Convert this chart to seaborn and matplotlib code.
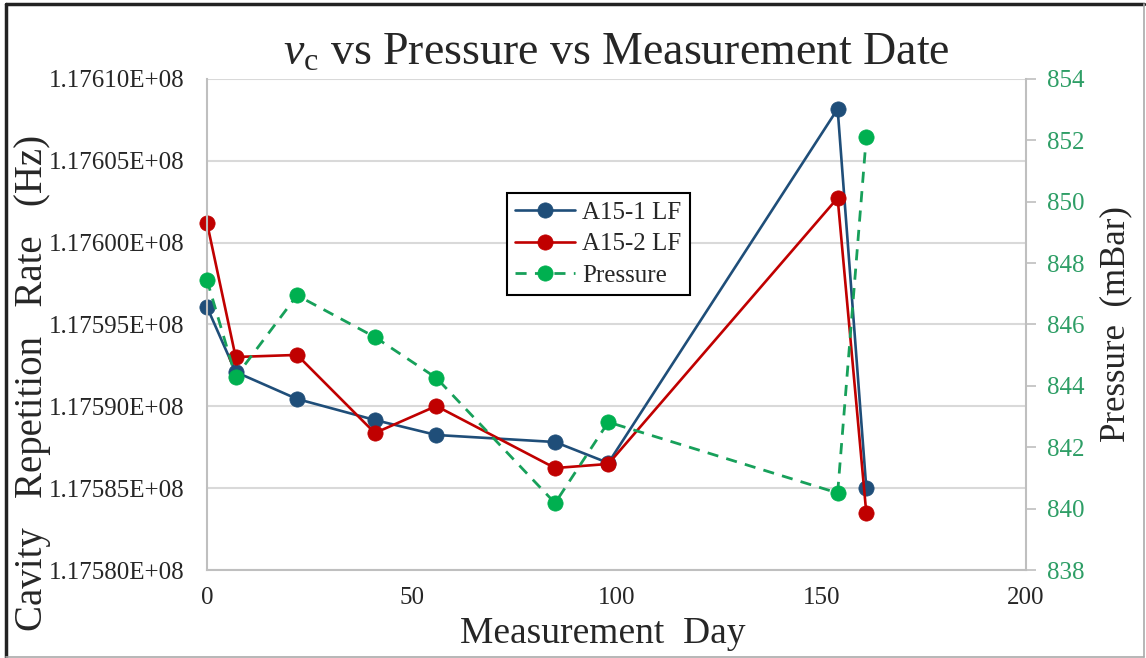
import matplotlib
matplotlib.use('Agg')
import matplotlib.pyplot as plt
from matplotlib.ticker import FuncFormatter, MultipleLocator
from matplotlib.lines import Line2D
import seaborn as sns
import pandas as pd

# values
days = [0, 7, 22, 41, 56, 85, 98, 154, 161]
a15_1_lf = [117596070, 117592100, 117590450, 117589165, 117588250,
            117587820, 117586540, 117608170, 117585010]
a15_2_lf = [117601220, 117593015, 117593140, 117588370, 117590020,
            117586230, 117586480, 117602730, 117583480]
pressure = [847.45, 844.29, 846.95, 845.59, 844.26, 840.18, 842.82, 840.51, 852.11]

x_ticks = [0, 50, 100, 150, 200]
p_ticks = [838, 840, 842, 844, 846, 848, 850, 852, 854]

df = pd.DataFrame({'day': days, 'A15-1 LF': a15_1_lf,
                   'A15-2 LF': a15_2_lf, 'Pressure': pressure})

sns.set_style('white')
plt.rcParams['font.family'] = ['Liberation Serif', 'DejaVu Serif']
plt.rcParams['mathtext.fontset'] = 'custom'
plt.rcParams['mathtext.rm'] = 'Liberation Serif'
plt.rcParams['mathtext.it'] = 'Liberation Serif:italic'

blue = '#1f4e79'
red = '#c00000'
green = '#00b050'
green_line = '#17a05a'
green_text = '#2e9e66'
grid_c = '#d9d9d9'
spine_c = '#bfbfbf'

fig, ax = plt.subplots(figsize=(11.46, 6.58), dpi=100)
fig.subplots_adjust(left=0.1806, right=0.8953, top=0.88, bottom=0.1337)

# left axis series
sns.lineplot(data=df, x='day', y='A15-1 LF', ax=ax, color=blue, marker='o',
             markersize=11, markeredgecolor=blue, markeredgewidth=0.5,
             linewidth=1.9, clip_on=False, label='A15-1 LF', legend=False)
sns.lineplot(data=df, x='day', y='A15-2 LF', ax=ax, color=red, marker='o',
             markersize=11, markeredgecolor=red, markeredgewidth=0.5,
             linewidth=1.9, clip_on=False, label='A15-2 LF', legend=False)

ax.set_xlim(0, 200)
ax.set_ylim(117580000, 117610000)
ax.yaxis.set_major_locator(MultipleLocator(5000))
ax.yaxis.set_major_formatter(FuncFormatter(lambda v, p: f'{v:.5E}'))
ax.set_xticks(x_ticks)
ax.grid(axis='y', color=grid_c, linewidth=1.5)
ax.grid(axis='x', visible=False)
ax.tick_params(axis='y', length=0, pad=16, labelsize=18)
ax.tick_params(axis='x', length=0, pad=12, labelsize=18)
for s in ['top', 'right']:
    ax.spines[s].set_visible(False)
for s in ['left', 'bottom']:
    ax.spines[s].set_color(spine_c)
    ax.spines[s].set_linewidth(1.5)

ax.set_xlabel('Measurement  Day', fontsize=27)
ax.set_ylabel('Cavity   Repetition   Rate   (Hz)', fontsize=28)
ax.xaxis.set_label_coords(0.4835, -0.095)
ax.yaxis.set_label_coords(-0.19, 0.38)

# right axis: pressure
ax2 = ax.twinx()
sns.lineplot(data=df, x='day', y='Pressure', ax=ax2, color=green_line, marker='o',
             markersize=11, markerfacecolor=green, markeredgecolor=green,
             markeredgewidth=0.5, linewidth=2.0, dashes=False, clip_on=False,
             label='Pressure', legend=False)
ax2.lines[0].set_linestyle((0, (4, 3)))
ax2.set_ylim(838, 854)
ax2.set_yticks(p_ticks)
ax2.tick_params(axis='y', length=7, width=1.2, color=spine_c, pad=8,
                labelsize=18, labelcolor=green_text)
for s in ['top', 'left', 'bottom']:
    ax2.spines[s].set_visible(False)
ax2.spines['right'].set_color(spine_c)
ax2.spines['right'].set_linewidth(1.5)
ax2.grid(False)
ax2.set_ylabel('Pressure  (mBar)', fontsize=25, rotation=90)
ax2.yaxis.set_label_coords(1.09, 0.5)

ax.set_title(r'$\mathit{v}_{\mathrm{c}}$ vs Pressure vs Measurement Date',
             fontsize=33, y=1.03, pad=0)

handles = ax.get_lines() + ax2.get_lines()
labels = [h.get_label() for h in handles]
leg = ax2.legend(handles, labels, loc='upper left', bbox_to_anchor=(0.366, 0.768),
                 fontsize=18, frameon=True, fancybox=False, edgecolor='black',
                 framealpha=1, handlelength=2.4, handletextpad=0.25,
                 labelspacing=0.35, borderpad=0.35, borderaxespad=0)
leg.get_frame().set_linewidth(1.5)

# outer frame of the figure
fig.add_artist(Line2D([0.005, 0.005], [0, 0.994], transform=fig.transFigure, color='#222222', lw=2.5))
fig.add_artist(Line2D([0.005, 0.998], [0.994, 0.994], transform=fig.transFigure, color='#222222', lw=2.5))
fig.add_artist(Line2D([0.998, 0.998], [0.002, 0.994], transform=fig.transFigure, color='#aaaaaa', lw=1.2))
fig.add_artist(Line2D([0.005, 0.998], [0.002, 0.002], transform=fig.transFigure, color='#aaaaaa', lw=1.2))

fig.savefig('out.png', dpi=100)
